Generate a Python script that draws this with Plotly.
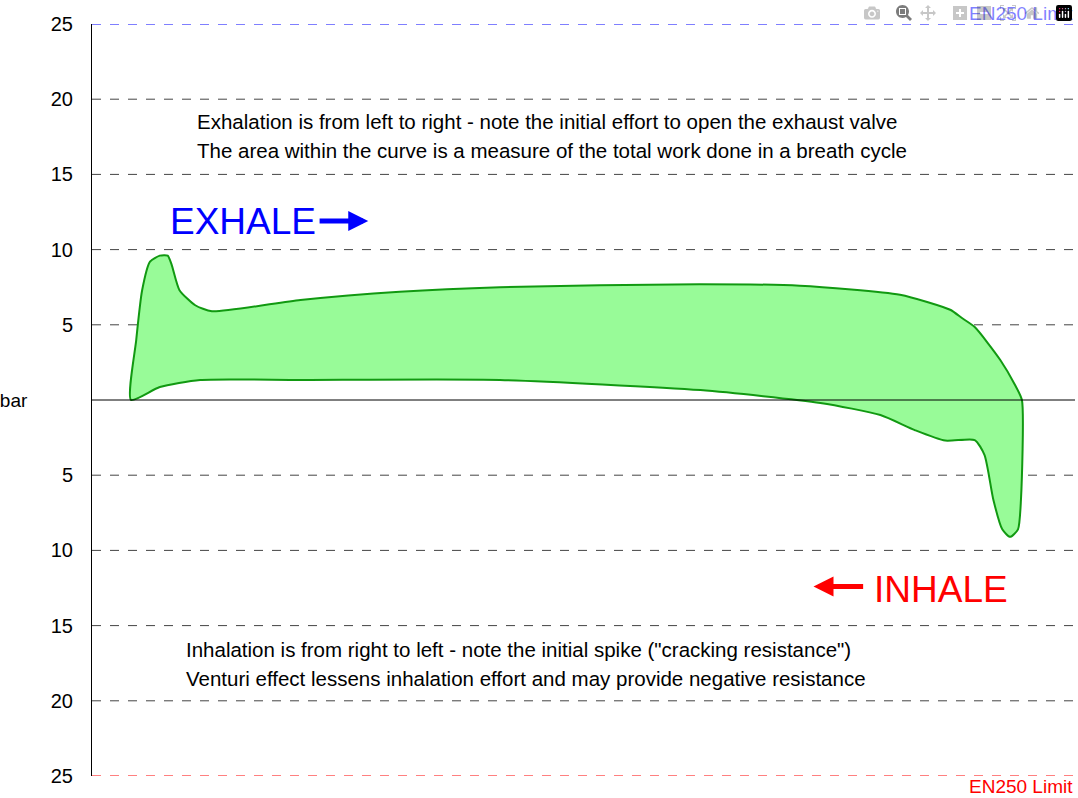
import plotly.graph_objects as go

# exhale (upper) curve, left to right
ex_x = [3.97, 4.5, 5.1, 5.9, 6.9, 7.7, 8.1, 8.9, 10.5, 12.2, 21.2, 31.3, 41.5, 61.8, 72, 82.2, 87.3, 88.5, 89.8, 92.4, 93.9, 94.6]
ex_y = [0, 4, 7.3, 9.2, 9.6, 9.6, 9.0, 7.3, 6.3, 5.9, 6.65, 7.2, 7.5, 7.7, 7.6, 7.0, 6.0, 5.45, 4.85, 2.66, 1.0, 0]
# inhale (lower) curve, right to left
in_x = [94.6, 94.5, 94.2, 93.4, 92.6, 91.7, 90.8, 89.8, 86.8, 83.7, 80.2, 74.1, 61.9, 41.5, 21.2, 11, 6.9, 3.97]
in_y = [0, -6.65, -8.6, -9.1, -8.6, -6.65, -3.66, -2.66, -2.7, -2.0, -1.0, -0.2, 0.66, 1.33, 1.33, 1.33, 0.86, 0]

tick_vals = [25, 20, 15, 10, 5, 0, -5, -10, -15, -20, -25]
tick_text = ["25", "20", "15", "10", "5", "", "5", "10", "15", "20", "25"]

F = "Liberation Sans, Arial, sans-serif"
fig = go.Figure()
fig.add_trace(go.Scatter(x=ex_x + in_x[1:], y=ex_y + in_y[1:], mode="lines",
                         line=dict(color="#119911", width=2, shape="spline", smoothing=0.6),
                         fill="toself", fillcolor="#98fb98", hoverinfo="skip"))
for v in [-20, -15, -10, -5, 5, 10, 15, 20]:
    fig.add_hline(y=v, line=dict(color="#444", width=1, dash="dash"), layer="below")
fig.add_hline(y=0, line=dict(color="black", width=1))
fig.add_hline(y=25, line=dict(color="blue", width=1, dash="dash"))
fig.add_hline(y=-25, line=dict(color="red", width=1, dash="dash"))

ann = [
    dict(x=10.5, y=18.5, text="Exhalation is from left to right - note the initial effort to open the exhaust valve", xanchor="left"),
    dict(x=10.5, y=16.6, text="The area within the curve is a measure of the total work done in a breath cycle", xanchor="left"),
    dict(x=9.4, y=-16.6, text="Inhalation is from right to left - note the initial spike (\"cracking resistance\")", xanchor="left"),
    dict(x=9.4, y=-18.5, text="Venturi effect lessens inhalation effort and may provide negative resistance", xanchor="left"),
]
for a in ann:
    fig.add_annotation(**a, showarrow=False, font=dict(family=F, size=20.5, color="black"))
fig.add_annotation(x=7.7, y=11.9, text="EXHALE", xanchor="left", showarrow=False,
                   font=dict(family=F, size=37, color="blue"))
fig.add_annotation(x=79.3, y=-12.6, text="INHALE", xanchor="left", showarrow=False,
                   font=dict(family=F, size=37, color="red"))
fig.add_annotation(x=28.1, y=11.9, ax=23.0, ay=11.9, axref="x", ayref="y", text="",
                   showarrow=True, arrowhead=2, arrowsize=0.8, arrowwidth=5, arrowcolor="blue")
fig.add_annotation(x=73.4, y=-12.4, ax=78.6, ay=-12.4, axref="x", ayref="y", text="",
                   showarrow=True, arrowhead=2, arrowsize=0.8, arrowwidth=5, arrowcolor="red")
fig.add_annotation(x=1, y=25, xref="paper", yref="y", text="EN250 Limit", showarrow=False,
                   xanchor="right", yanchor="bottom", yshift=-2, font=dict(family=F, size=19, color="blue"))
fig.add_annotation(x=1, y=-25, xref="paper", yref="y", text="EN250 Limit", showarrow=False,
                   xanchor="right", yanchor="top", yshift=2, font=dict(family=F, size=19, color="red"))
fig.add_annotation(x=0, y=0, xref="paper", yref="y", text="mbar", showarrow=False,
                   xanchor="right", xshift=-62, font=dict(family=F, size=19, color="black"))

fig.update_layout(width=1078, height=798, margin=dict(l=92, r=3, t=24, b=22),
                  plot_bgcolor="white", paper_bgcolor="white", showlegend=False,
                  font=dict(family=F, size=18, color="black"))
fig.update_xaxes(range=[0, 100], visible=False, fixedrange=True)
fig.update_yaxes(range=[-25, 25], tickvals=tick_vals, ticktext=tick_text, showgrid=False,
                 zeroline=False, showline=True, linecolor="black", linewidth=1,
                 ticks="outside", ticklen=0, tickfont=dict(family=F, size=20), ticklabelstandoff=14)
fig.write_html("out.html", post_script="document.body.style.margin='0';document.body.style.overflow='hidden';")
